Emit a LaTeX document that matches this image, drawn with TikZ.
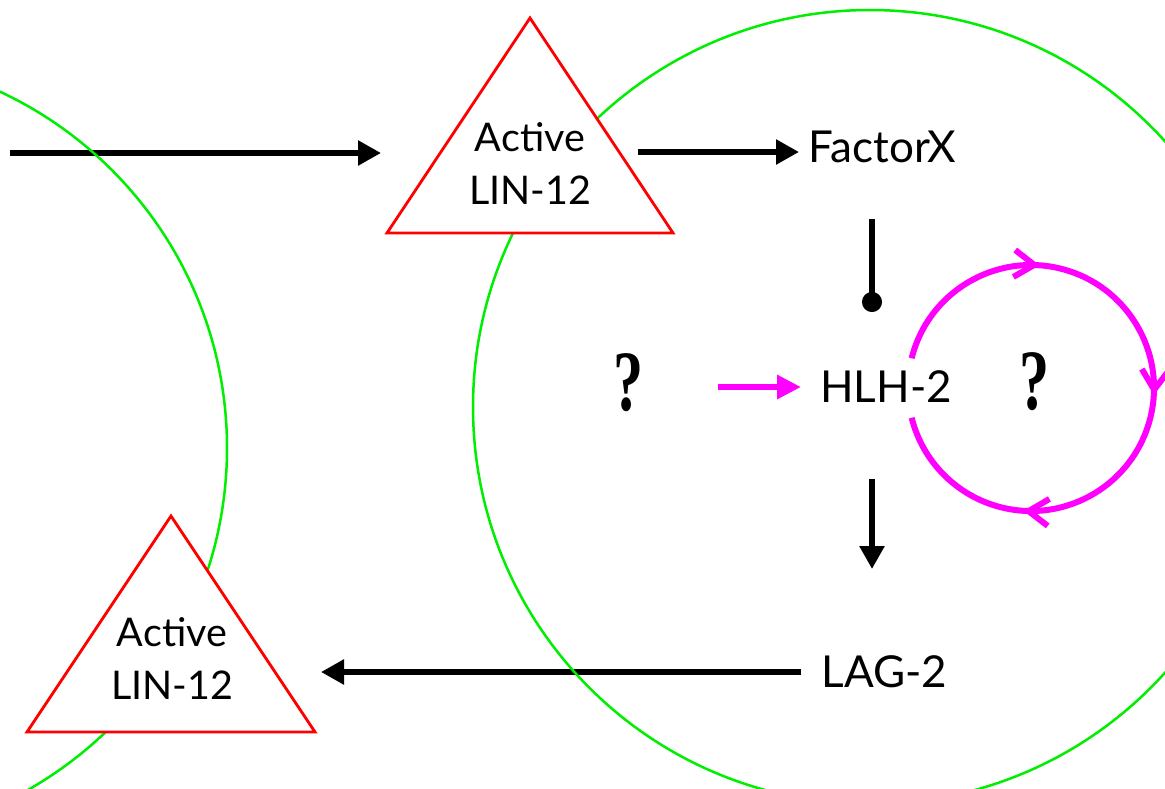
\documentclass[tikz,border=0pt]{standalone}
\usepackage{fontspec}
\setmainfont{Lato}
\newfontfamily\qfont{Liberation Serif}
\usetikzlibrary{arrows.meta,decorations.markings}
\definecolor{cellgreen}{RGB}{0,238,0}
\definecolor{trired}{RGB}{255,0,0}
\definecolor{loopmag}{RGB}{255,0,255}
\tikzset{
  arr/.style={line width=5.5pt, -{Triangle[length=23pt,width=24pt]}},
  inhib/.style={line width=5.5pt, -{Circle[length=20pt]}},
  marr/.style={loopmag, line width=6pt, -{Triangle[length=24pt,width=23pt]}},
  cell/.style={cellgreen, line width=2.5pt},
  tri/.style={trired, line width=2.8pt, fill=white, line join=miter},
  trilabel/.style={font=\fontsize{39.5}{53}\selectfont, align=center, inner sep=0pt},
  gene/.style={font=\fontsize{44}{50}\selectfont, inner sep=0pt, anchor=base},
  qmark/.style={inner sep=0pt, font=\qfont\bfseries\fontsize{86}{86}\selectfont},
  loopbarb/.tip={Straight Barb[length=20pt,width=27pt]},
}
\begin{document}
\begin{tikzpicture}[x=1pt,y=-1pt]
\useasboundingbox (0,0) rectangle (1165,788);
\clip (0,0) rectangle (1165,788);
\fill[white] (0,0) rectangle (1165,788);

% endpoints of connectors
\coordinate (inStart) at (10,153);
\coordinate (inTip) at (381,153);
\coordinate (aStart) at (638,152);
\coordinate (aTip) at (799,152);
\coordinate (iStart) at (872,219);
\coordinate (iTip) at (872,312);
\coordinate (mStart) at (718,387);
\coordinate (mTip) at (801,387);
\coordinate (dStart) at (872,479);
\coordinate (dTip) at (872,569);
\coordinate (lStart) at (801,672);
\coordinate (lTip) at (321,672);

% connectors
\draw[arr] (inStart) -- (inTip);
\draw[arr] (aStart) -- (aTip);
\draw[inhib] (iStart) -- (iTip);
\draw[marr] (mStart) -- (mTip);
\draw[arr] (dStart) -- (dTip);
\draw[arr] (lStart) -- (lTip);

% cells
\draw[cell] (-166,448) circle[radius=393];
\draw[cell] (870,407) circle[radius=397];

% triangles
\draw[tri] (530,18) -- (673,233) -- (387,233) -- cycle;
\draw[tri] (171,516) -- (315,732) -- (27,732) -- cycle;

\node[trilabel] (linA) at (530,164) {Active\\LIN-12};
\node[trilabel] (linB) at (172,659) {Active\\LIN-12};

\node[gene] (fx) at (882.5,162) {FactorX};
\node[gene] (hlh) at (886,402) {HLH-2};
\node[gene] (lag) at (884.5,687) {LAG-2};

\node[qmark] (q1) at (629,383) {\scalebox{0.7}[1]{?}};
\node[qmark] (q2) at (1035,382) {\scalebox{0.7}[1]{?}};

% self loop
\draw[loopmag, line width=6pt, postaction=decorate, decoration={markings,
  mark=at position 0.241 with {\arrow{loopbarb}},
  mark=at position 0.510 with {\arrow{loopbarb}},
  mark=at position 0.782 with {\arrow{loopbarb}}}]
  ([shift={(-166:123)}]1031,388) arc[start angle=-166, end angle=166, radius=123];
\end{tikzpicture}
\end{document}
